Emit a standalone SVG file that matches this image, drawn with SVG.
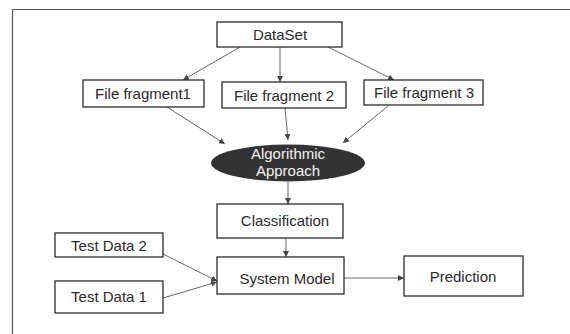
<svg xmlns="http://www.w3.org/2000/svg" width="570" height="334" viewBox="0 0 570 334">
<style>
.box{fill:#fff;stroke:#2b2b2b;stroke-width:1.3}
.t{font-family:"Liberation Sans",Arial,sans-serif;font-size:15px;fill:#2a2a2a;text-anchor:middle}
.tw{font-family:"Liberation Sans",Arial,sans-serif;font-size:15px;fill:#f2f2f2;text-anchor:middle}
.c{stroke:#666;stroke-width:1;fill:none;marker-end:url(#ah)}
</style>
<defs>
<marker id="ah" markerUnits="userSpaceOnUse" markerWidth="7" markerHeight="6" refX="6" refY="3" orient="auto">
<path d="M0,0 L6,3 L0,6 z" fill="#444"/>
</marker>
</defs>
<rect x="0" y="0" width="570" height="334" fill="#fff"/>
<path d="M12.5,334 L12.5,9.5 L570,9.5" fill="none" stroke="#555" stroke-width="1.2"/>
<g id="connectors">
<line class="c" x1="240" y1="47" x2="183" y2="80"/>
<line class="c" x1="280" y1="47" x2="280" y2="82"/>
<line class="c" x1="328" y1="47" x2="394" y2="80"/>
<line class="c" x1="167" y1="107" x2="225" y2="144"/>
<line class="c" x1="285" y1="108" x2="288" y2="140"/>
<line class="c" x1="388" y1="106" x2="343" y2="143"/>
<line class="c" x1="288" y1="182" x2="288" y2="204"/>
<line class="c" x1="286" y1="238" x2="286" y2="257"/>
<line class="c" x1="163" y1="254" x2="217" y2="281"/>
<line class="c" x1="163" y1="298" x2="217" y2="282"/>
<line class="c" x1="344" y1="278" x2="404" y2="278"/>
</g>
<g id="dataset">
<rect class="box" x="217" y="22" width="125" height="25"/>
<text class="t" x="280" y="40">DataSet</text>
</g>
<g id="ff1">
<rect class="box" x="83" y="80" width="121" height="27"/>
<text class="t" x="143" y="99">File fragment1</text>
</g>
<g id="ff2">
<rect class="box" x="222" y="82" width="124" height="26"/>
<text class="t" x="284" y="101">File fragment 2</text>
</g>
<g id="ff3">
<rect class="box" x="364" y="80" width="119" height="25"/>
<text class="t" x="424" y="98">File fragment 3</text>
</g>
<g id="algo">
<ellipse cx="288" cy="163" rx="77" ry="18.5" fill="#333"/>
<text class="tw" x="288" y="159">Algorithmic</text>
<text class="tw" x="288" y="176">Approach</text>
</g>
<g id="classification">
<rect class="box" x="217" y="204" width="126" height="34"/>
<text class="t" x="285" y="226">Classification</text>
</g>
<g id="system">
<rect class="box" x="217" y="257" width="127" height="37"/>
<text class="t" x="287" y="284">System Model</text>
</g>
<g id="prediction">
<rect class="box" x="404" y="256" width="119" height="40"/>
<text class="t" x="463" y="282">Prediction</text>
</g>
<g id="td2">
<rect class="box" x="55" y="233" width="108" height="24"/>
<text class="t" x="109" y="251">Test Data 2</text>
</g>
<g id="td1">
<rect class="box" x="55" y="281" width="108" height="32"/>
<text class="t" x="109" y="302">Test Data 1</text>
</g>
</svg>
